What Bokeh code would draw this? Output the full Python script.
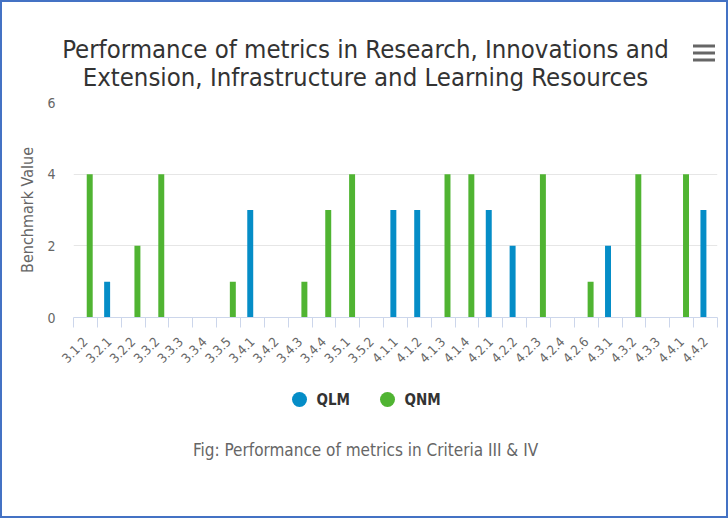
from bokeh.plotting import figure
from bokeh.layouts import column, row
from bokeh.models import Range1d, FixedTicker
from bokeh.embed import file_html
from bokeh.resources import INLINE

categories = ["3.1.2", "3.2.1", "3.2.2", "3.3.2", "3.3.3", "3.3.4", "3.3.5",
              "3.4.1", "3.4.2", "3.4.3", "3.4.4", "3.5.1", "3.5.2", "4.1.1",
              "4.1.2", "4.1.3", "4.1.4", "4.2.1", "4.2.2", "4.2.3", "4.2.4",
              "4.2.6", "4.3.1", "4.3.2", "4.3.3", "4.4.1", "4.4.2"]
qlm = [0, 1, 0, 0, 0, 0, 0, 3, 0, 0, 0, 0, 0, 3, 3, 0, 0, 3, 2, 0, 0, 0, 2, 0, 0, 0, 3]
qnm = [4, 0, 2, 4, 0, 0, 1, 0, 0, 1, 3, 4, 0, 0, 0, 4, 4, 0, 0, 4, 0, 1, 0, 4, 0, 4, 0]
series = ["QLM", "QNM"]
y_ticks = [0, 2, 4, 6]
title_lines = ["Performance of metrics in Research, Innovations and",
               "Extension, Infrastructure and Learning Resources"]
caption = "Fig: Performance of metrics in Criteria III & IV"
y_title = "Benchmark Value"

FONT = "DejaVu Sans Condensed"
COLORS = ["#058DC7", "#50B432"]
W = 724

n = len(categories)
idx = list(range(n))


def blank(h, yr):
    f = figure(width=W, height=h, output_backend="svg", toolbar_location=None,
               x_range=Range1d(0, W), y_range=Range1d(yr, 0),
               x_axis_type=None, y_axis_type=None, min_border=0)
    f.outline_line_color = None
    f.grid.grid_line_color = None
    f.background_fill_color = "white"
    f.border_fill_color = "white"
    return f


# ---- header: title + menu icon
top = blank(90, 90)
top.text(x=[363, 363], y=[46, 74], text=title_lines, text_align="center",
         text_baseline="middle", text_font={"value": FONT},
         text_font_size="25.5px", text_color="#333333")
top.rect(x=[701.5, 701.5, 701.5], y=[43.5, 50.5, 57.5], width=22, height=3,
         color="#666666", line_color=None)

# ---- main chart
p = figure(width=W, height=290, output_backend="svg", toolbar_location=None,
           x_range=Range1d(-0.5, n - 0.5), y_range=Range1d(0, 6),
           min_border_left=71, min_border_right=9, min_border_top=10,
           min_border_bottom=65)
p.outline_line_color = None
p.background_fill_color = "white"
p.border_fill_color = "white"

p.vbar(x=[i - 0.09 for i in idx], top=qlm, width=0.25, color=COLORS[0], line_color=None)
p.vbar(x=[i + 0.18 for i in idx], top=qnm, width=0.25, color=COLORS[1], line_color=None)

xa = p.xaxis[0]
xa.ticker = FixedTicker(ticks=idx, minor_ticks=[i - 0.5 for i in range(n + 1)])
xa.major_label_overrides = {i: c for i, c in zip(idx, categories)}
xa.major_label_orientation = 0.785398
xa.major_label_text_font = FONT
xa.major_label_text_font_size = "13px"
xa.major_label_text_color = "#666666"
xa.major_label_standoff = 12
xa.major_tick_line_color = None
xa.major_tick_out = 0
xa.minor_tick_line_color = "#ccd6eb"
xa.minor_tick_out = 10
xa.minor_tick_in = 0
xa.axis_line_color = "#ccd6eb"
p.xgrid.grid_line_color = None

ya = p.yaxis[0]
ya.ticker = FixedTicker(ticks=y_ticks)
ya.axis_line_color = None
ya.major_tick_line_color = None
ya.minor_tick_line_color = None
ya.major_label_text_font = FONT
ya.major_label_text_font_size = "14px"
ya.major_label_text_color = "#666666"
ya.major_label_standoff = 12
ya.axis_label = y_title
ya.axis_label_text_font = FONT
ya.axis_label_text_font_size = "16px"
ya.axis_label_text_font_style = "normal"
ya.axis_label_text_color = "#666666"
ya.axis_label_standoff = 7
p.ygrid.grid_line_color = "#e6e6e6"

# ---- footer: legend + caption
bot = blank(134, 134)
bot.scatter(x=[297, 385], y=[17, 17], marker="circle", size=15,
            color=COLORS, line_color=None)
bot.text(x=[314, 402], y=[17, 17], text=series, text_align="left",
         text_baseline="middle", text_font={"value": FONT},
         text_font_size="15px", text_font_style="bold", text_color="#333333")
bot.text(x=[363], y=[67], text=[caption], text_align="center",
         text_baseline="middle", text_font={"value": FONT},
         text_font_size="17px", text_color="#666666")

layout = column(row(top), row(p), row(bot), spacing=0)

html = file_html(layout, INLINE)
css = ("<style>html,body{margin:0;padding:0;}"
       "body{box-sizing:border-box;width:728px;height:518px;"
       "border:2px solid #4472C4;overflow:hidden;}</style>")
html = html.replace("<head>", "<head>" + css, 1)
open("out.html", "w").write(html)
